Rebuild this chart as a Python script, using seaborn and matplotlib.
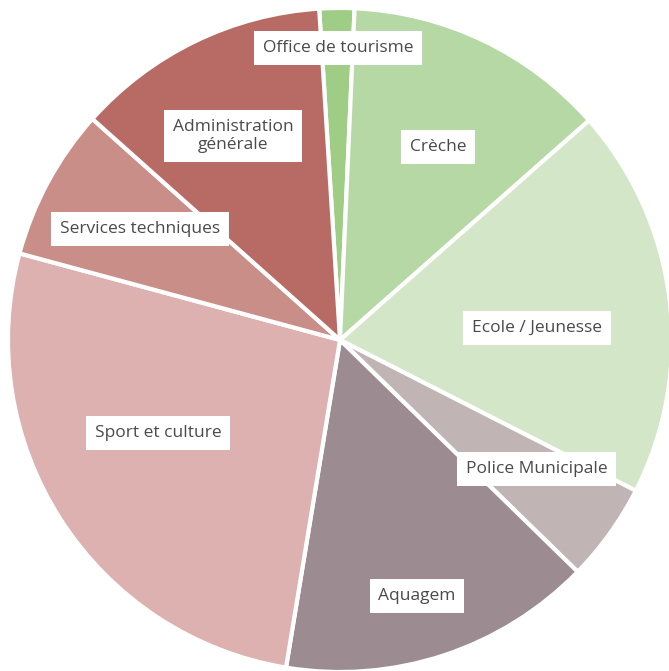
import matplotlib.pyplot as plt
import seaborn as sns

# budget split by service (share of total, %)
services = ['Office de tourisme', 'Crèche', 'Ecole / Jeunesse', 'Police Municipale',
            'Aquagem', 'Sport et culture', 'Services techniques', 'Administration\ngénérale']
shares = [1.7, 12.8, 19.0, 4.8, 15.3, 26.6, 7.4, 12.4]
colors = ['#a0cd86', '#b6d8a5', '#d4e6c8', '#c0b5b4',
          '#9c8b90', '#dcb1b0', '#c98e88', '#b86a65']

# where each label box sits (pie radius = 1)
label_xy = [(-0.006, 0.880), (0.295, 0.581), (0.593, 0.036), (0.593, -0.389),
            (0.232, -0.771), (-0.548, -0.280), (-0.602, 0.334), (-0.322, 0.614)]

sns.set_theme(style='white')
plt.rcParams['font.family'] = ['Open Sans', 'DejaVu Sans']

fig = plt.figure(figsize=(6.69, 6.71), dpi=100)
ax = fig.add_axes([0, 0, 1, 1])

ax.pie(shares, colors=colors, startangle=93.6, counterclock=False, radius=1,
       wedgeprops=dict(edgecolor='white', linewidth=3))

for name, (x, y) in zip(services, label_xy):
    ax.text(x, y, name, ha='center', va='center', fontsize=12.5, color='#4a4a4a',
            linespacing=1.2,
            bbox=dict(boxstyle='square,pad=0.5', facecolor='white', edgecolor='none'))

# pie centre at pixel (340, 340), radius 332 px
ax.set_xlim(-340 / 332, 329 / 332)
ax.set_ylim(-331 / 332, 340 / 332)
ax.set_aspect('auto')
ax.axis('off')

fig.savefig('out.png', dpi=100, facecolor='white')
